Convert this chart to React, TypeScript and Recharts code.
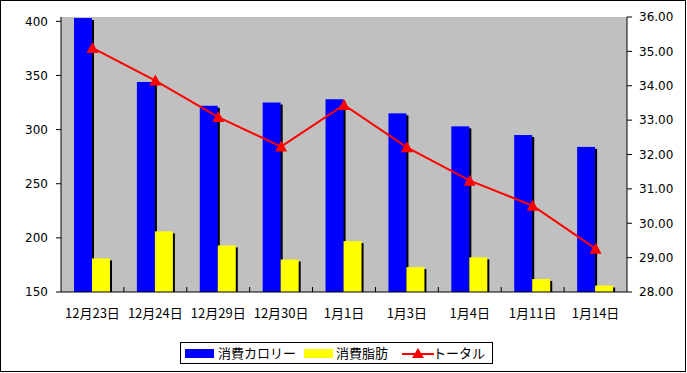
import React from 'react';
import { ComposedChart, Bar, Line, XAxis, YAxis, CartesianGrid, Legend } from 'recharts';

const FONT = '"DejaVu Sans", "Noto Sans CJK JP", sans-serif';
const JP_FONT = '"Noto Sans CJK JP", sans-serif';

const dates = ['12月23日', '12月24日', '12月29日', '12月30日', '1月1日', '1月3日', '1月4日', '1月11日', '1月14日'];
const calories = [403, 344, 322, 325, 328, 315, 303, 295, 284];
const fat = [181, 206, 193, 180, 197, 173, 182, 162, 156];
const total = [35.1, 34.15, 33.09, 32.23, 33.44, 32.21, 31.24, 30.51, 29.26];

const leftTicks = [150, 200, 250, 300, 350, 400];
const rightTicks = [28, 29, 30, 31, 32, 33, 34, 35, 36];

const SERIES = { cal: '消費カロリー', fat: '消費脂肪', total: 'トータル' };

const data = dates.map((d, i) => ({ date: d, cal: calories[i], fat: fat[i], total: total[i] }));

// bar with a small black drop shadow, like the old Excel look
const shadowBar = (fill: string) => (props: any) => {
  const { x, y, width, height } = props;
  if (!height || height <= 0) return <g />;
  return (
    <g>
      <rect x={x + 2} y={y + 2} width={width} height={Math.max(height - 2, 0)} fill="#000" />
      <rect x={x} y={y} width={width} height={height} fill={fill} />
    </g>
  );
};

const TriangleDot = (props: any) => {
  const { cx, cy } = props;
  if (cx == null || cy == null) return <g />;
  return <polygon points={`${cx},${cy - 6} ${cx + 6},${cy + 5} ${cx - 6},${cy + 5}`} fill="#FF0000" />;
};

const DateTick = (props: any) => {
  const { x, y, payload, index } = props;
  const half = payload && payload.offset ? payload.offset : 31.4;
  return (
    <g>
      {index > 0 && <line x1={x - half} x2={x - half} y1={y} y2={y - 5} stroke="#000" />}
      <text x={x} y={y + 26} textAnchor="middle" fill="#000" fontSize={13} fontFamily={JP_FONT}>
        {payload.value}
      </text>
    </g>
  );
};

const LegendBox = () => (
  <div
    style={{
      position: 'relative',
      width: 313,
      height: 22,
      border: '1px solid #000',
      boxSizing: 'border-box',
      background: '#fff',
      fontFamily: JP_FONT,
      fontSize: 13,
      color: '#000',
    }}
  >
    <div style={{ position: 'absolute', left: 4, top: 6, width: 29, height: 9, background: '#0000FF' }} />
    <span style={{ position: 'absolute', left: 37, top: 0, lineHeight: '20px' }}>{SERIES.cal}</span>
    <div style={{ position: 'absolute', left: 123, top: 6, width: 29, height: 9, background: '#FFFF00' }} />
    <span style={{ position: 'absolute', left: 155, top: 0, lineHeight: '20px' }}>{SERIES.fat}</span>
    <svg style={{ position: 'absolute', left: 221, top: 0 }} width={32} height={20}>
      <line x1={0} x2={32} y1={11} y2={11} stroke="#FF0000" strokeWidth={2} />
      <polygon points="16,5 22,15 10,15" fill="#FF0000" />
    </svg>
    <span style={{ position: 'absolute', left: 252, top: 0, lineHeight: '20px' }}>{SERIES.total}</span>
  </div>
);

export default function App() {
  return (
    <div style={{ position: 'absolute', left: 0, top: 0, width: 687, height: 373, background: '#fff' }}>
      <ComposedChart
        width={687}
        height={373}
        data={data}
        margin={{ top: 17, right: 0, bottom: 0, left: 0 }}
        barSize={18}
        barGap={0}
      >
        <CartesianGrid horizontal={false} vertical={false} fill="#C0C0C0" />
        <XAxis xAxisId="top" orientation="top" dataKey="date" height={0} tick={false} tickLine={false} axisLine={{ stroke: '#808080' }} />
        <XAxis
          dataKey="date"
          height={81}
          tickSize={0}
          tickMargin={0}
          tickLine={false}
          axisLine={{ stroke: '#000' }}
          interval={0}
          tick={<DateTick />}
        />
        <YAxis
          yAxisId="left"
          width={61}
          domain={[150, 404]}
          ticks={leftTicks}
          allowDataOverflow
          tickSize={5}
          tickMargin={8}
          axisLine={{ stroke: '#000' }}
          tickLine={{ stroke: '#000' }}
          tick={{ fill: '#000', fontSize: 12, fontFamily: FONT }}
        />
        <YAxis
          yAxisId="right"
          orientation="right"
          width={60}
          domain={[28, 36]}
          ticks={rightTicks}
          tickFormatter={(v: number) => v.toFixed(2)}
          tickSize={5}
          tickMargin={7}
          axisLine={{ stroke: '#000' }}
          tickLine={{ stroke: '#000' }}
          tick={{ fill: '#000', fontSize: 12, fontFamily: FONT, textAnchor: 'start' }}
        />
        <Bar yAxisId="left" dataKey="cal" name={SERIES.cal} fill="#0000FF" shape={shadowBar('#0000FF')} isAnimationActive={false} />
        <Bar yAxisId="left" dataKey="fat" name={SERIES.fat} fill="#FFFF00" shape={shadowBar('#FFFF00')} isAnimationActive={false} />
        <Line
          yAxisId="right"
          dataKey="total"
          name={SERIES.total}
          stroke="#FF0000"
          strokeWidth={2}
          dot={<TriangleDot />}
          activeDot={false}
          isAnimationActive={false}
        />
        <Legend
          layout="horizontal"
          verticalAlign="middle"
          content={<LegendBox />}
          wrapperStyle={{ left: 180, top: 342, width: 313, height: 22 }}
        />
      </ComposedChart>
      <div
        style={{
          position: 'absolute',
          left: 0,
          top: 0,
          width: 686,
          height: 372,
          border: '1px solid #000',
          boxSizing: 'border-box',
          pointerEvents: 'none',
        }}
      />
    </div>
  );
}
